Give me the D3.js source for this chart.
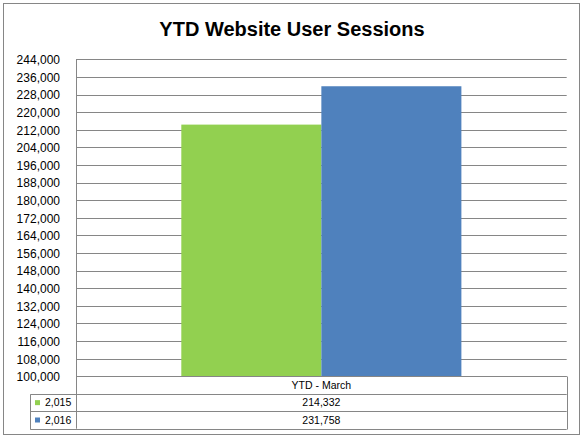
<!DOCTYPE html>
<html>
<head>
<meta charset="utf-8">
<script src="https://cdn.jsdelivr.net/npm/d3@7"></script>
<style>
  html, body { margin: 0; padding: 0; background: #fff; }
  svg { display: block; }
  text { font-family: "Liberation Sans", Arial, sans-serif; fill: #000; }
</style>
</head>
<body>
<svg id="chart" width="584" height="437"></svg>
<script>
// ---- data ----
const title = "YTD Website User Sessions";
const categories = ["YTD - March"];
const seriesNames = ["2,015", "2,016"];
const seriesColors = ["#92D050", "#4F81BD"];
const values2015 = [214332];
const values2016 = [231758];
const yTicks = [100000,108000,116000,124000,132000,140000,148000,156000,164000,172000,180000,188000,196000,204000,212000,220000,228000,236000,244000];

const seriesValues = [values2015, values2016];

const svg = d3.select("#chart");
const fmt = d3.format(",");

// outer frame
svg.append("rect")
  .attr("x", 3.5).attr("y", 3.5).attr("width", 576).attr("height", 431)
  .attr("fill", "#fff").attr("stroke", "#868686").attr("stroke-width", 1);

// title
svg.append("text")
  .attr("x", 292).attr("y", 36)
  .attr("text-anchor", "middle")
  .style("font-size", "20px").style("font-weight", "bold")
  .text(title);

const plotLeft = 76, plotRight = 566.7, plotTop = 59.3, plotBottom = 376.3;

const y = d3.scaleLinear().domain([yTicks[0], yTicks[yTicks.length - 1]]).range([plotBottom, plotTop]);
const x0 = d3.scaleBand().domain(categories).range([plotLeft, plotRight]).paddingInner(0).paddingOuter(0.376);
const x1 = d3.scaleBand().domain(seriesNames).range([0, x0.bandwidth()]);

// gridlines
svg.append("g").selectAll("line").data(yTicks).join("line")
  .attr("x1", plotLeft).attr("x2", plotRight)
  .attr("y1", d => Math.round(y(d)) + 0.5).attr("y2", d => Math.round(y(d)) + 0.5)
  .attr("stroke", "#868686").attr("stroke-width", 1);

// y axis labels via d3 axis
const yAxis = d3.axisLeft(y).tickValues(yTicks).tickFormat(fmt).tickSize(0).tickPadding(0);
const gy = svg.append("g").attr("transform", `translate(${plotLeft - 16},0)`).call(yAxis);
gy.select(".domain").remove();
gy.selectAll("text").style("font-size", "12px").style("font-family", "'Liberation Sans', Arial, sans-serif").attr("fill", "#000").attr("dy", "0.36em");

// bars
const groups = svg.append("g").selectAll("g").data(categories).join("g")
  .attr("transform", d => `translate(${x0(d)},0)`);
groups.selectAll("rect").data((d, i) => seriesNames.map((s, k) => ({ s, k, v: seriesValues[k][i] }))).join("rect")
  .attr("x", d => x1(d.s))
  .attr("width", x1.bandwidth())
  .attr("y", d => y(d.v))
  .attr("height", d => plotBottom - y(d.v))
  .attr("fill", d => seriesColors[d.k]);

// axis line
svg.append("line").attr("x1", plotLeft + 0.5).attr("x2", plotLeft + 0.5).attr("y1", plotTop).attr("y2", 428.7)
  .attr("stroke", "#868686");

// data table
const tableLeft = 30.3;
const rowEdges = [376.3, 394, 411.3, 428.7];
const tg = svg.append("g");
tg.append("line").attr("x1", plotLeft).attr("x2", plotRight).attr("y1", Math.round(rowEdges[0]) + 0.5).attr("y2", Math.round(rowEdges[0]) + 0.5).attr("stroke", "#868686");
rowEdges.slice(1).forEach(e => {
  tg.append("line").attr("x1", tableLeft).attr("x2", plotRight).attr("y1", Math.round(e) + 0.5).attr("y2", Math.round(e) + 0.5).attr("stroke", "#868686");
});
tg.append("line").attr("x1", Math.round(tableLeft) + 0.5).attr("x2", Math.round(tableLeft) + 0.5).attr("y1", Math.round(rowEdges[1]) + 0.5).attr("y2", Math.round(rowEdges[3]) + 0.5).attr("stroke", "#868686");
tg.append("line").attr("x1", Math.round(plotRight) + 0.5).attr("x2", Math.round(plotRight) + 0.5).attr("y1", Math.round(rowEdges[0]) + 0.5).attr("y2", Math.round(rowEdges[3]) + 0.5).attr("stroke", "#868686");

// header
categories.forEach(c => {
  tg.append("text").attr("x", x0(c) + x0.bandwidth() / 2).attr("y", (rowEdges[0] + rowEdges[1]) / 2)
    .attr("dy", "0.36em").attr("text-anchor", "middle").style("font-size", "10.5px").text(c);
});
// rows
seriesNames.forEach((s, k) => {
  const cy = (rowEdges[k + 1] + rowEdges[k + 2]) / 2;
  tg.append("rect").attr("x", 35).attr("y", cy - 2.5).attr("width", 5).attr("height", 5).attr("fill", seriesColors[k]);
  tg.append("text").attr("x", 45).attr("y", cy).attr("dy", "0.36em").style("font-size", "10.5px").text(s);
  categories.forEach((c, i) => {
    tg.append("text").attr("x", x0(c) + x0.bandwidth() / 2).attr("y", cy).attr("dy", "0.36em")
      .attr("text-anchor", "middle").style("font-size", "10.5px").text(fmt(seriesValues[k][i]));
  });
});
</script>
</body>
</html>
